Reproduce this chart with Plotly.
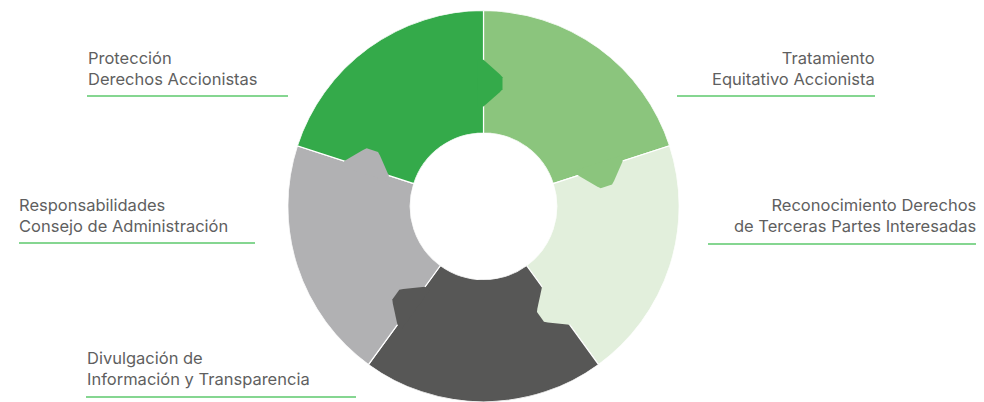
import numpy as np
import plotly.graph_objects as go

# ---- data ----
labels = [
    "Tratamiento<br>Equitativo Accionista",
    "Reconocimiento Derechos<br>de Terceras Partes Interesadas",
    "Divulgación de<br>Información y Transparencia",
    "Responsabilidades<br>Consejo de Administración",
    "Protección<br>Derechos Accionistas",
]
values = [1, 1, 1, 1, 1]
colors = ["#8BC57D", "#E2EFDC", "#575756", "#B1B1B3", "#34AA4A"]

# ---- geometry / style ----
OFF = 8                      # page body margin of the browser
W, H = 984 - OFF, 402 - OFF  # figure size so that it fits the window
HOLE = 0.374
total = float(sum(values))
widths = [360.0 * v / total for v in values]
starts = np.concatenate([[0.0], np.cumsum(widths)[:-1]])
centers = [s + w / 2 for s, w in zip(starts, widths)]

fig = go.Figure()
fig.add_trace(go.Barpolar(
    r=[1.0] * len(values),
    theta=centers,
    width=widths,
    marker=dict(color=colors, line=dict(color="white", width=1.2)),
    hoverinfo="skip",
    showlegend=False,
))

# puzzle tabs: each slice pushes a rounded tab clockwise into the next one
tab_local = [(0.509, -0.03), (0.509, 0.0), (0.583, 0.083), (0.598, 0.097),
             (0.659, 0.097), (0.674, 0.083), (0.748, 0.0), (0.748, -0.03)]
for i, (s, w) in enumerate(zip(starts, widths)):
    edge = s + w
    rr, tt = [], []
    for a, b in tab_local:
        rho = np.hypot(a, b)
        rr.append((rho - HOLE) / (1 - HOLE))
        tt.append(edge + np.degrees(np.arctan2(b, a)))
    rr.append(rr[0]); tt.append(tt[0])
    fig.add_trace(go.Scatterpolar(
        r=rr, theta=tt, mode="lines", fill="toself",
        fillcolor=colors[i], line=dict(color=colors[i], width=0),
        hoverinfo="skip", showlegend=False,
    ))

# ---- labels (positions given in window pixels) ----
def px(x):
    return (x - OFF) / W

def py(y):
    return 1 - (y - OFF) / H

label_pos = [  # (x, y of first line center, anchor, underline x0, x1, y)
    (875, 57, "right", 677, 875, 96),
    (976, 205, "right", 708, 982, 244),
    (87, 357, "left", 86, 356, 397),
    (19, 205, "left", 19, 255, 243),
    (88, 57, "left", 87, 288, 96),
]
annotations, shapes = [], []
for lab, (x, y, anc, x0, x1, yl) in zip(labels, label_pos):
    dx = -2 if anc == "left" else 2
    annotations.append(dict(
        text=lab, x=px(x + dx), y=py(y - 11.5), xref="paper", yref="paper",
        xanchor=anc, yanchor="top", align=anc, showarrow=False,
        font=dict(family="Inter", size=16.5, color="#5F5F5F", weight=400),
    ))
    shapes.append(dict(
        type="line", xref="paper", yref="paper",
        x0=px(x0), x1=px(x1), y0=py(yl), y1=py(yl),
        line=dict(color="#5CC86C", width=1.5),
    ))

cx, cy, R = 483.5 - OFF, 207 - OFF, 196.5
fig.update_layout(
    width=W, height=H,
    margin=dict(l=0, r=0, t=0, b=0),
    paper_bgcolor="white", plot_bgcolor="white",
    polar=dict(
        domain=dict(x=[(cx - R) / W, (cx + R) / W],
                    y=[0, min(1, (H - cy + R) / H)]),
        hole=HOLE,
        bargap=0,
        bgcolor="rgba(0,0,0,0)",
        angularaxis=dict(direction="clockwise", rotation=90, visible=False),
        radialaxis=dict(range=[0, 1], visible=False),
    ),
    annotations=annotations,
    shapes=shapes,
)

fig.write_html("out.html")
